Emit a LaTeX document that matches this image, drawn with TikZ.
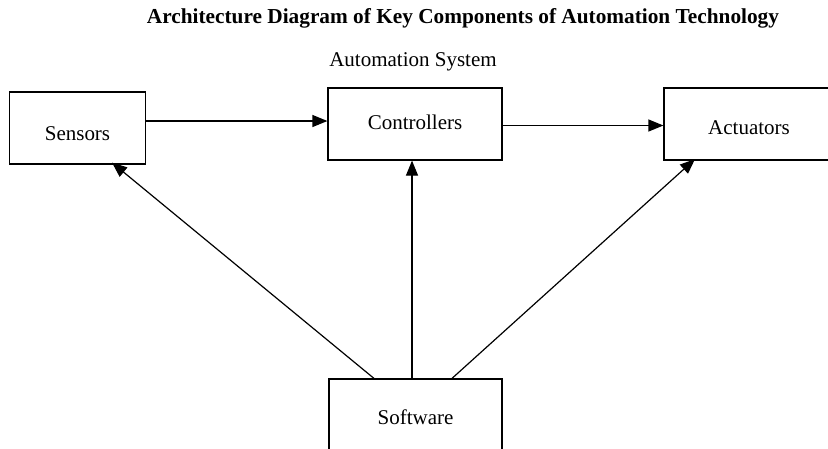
\documentclass[tikz,border=0pt]{standalone}
\usepackage{fontspec}
\setmainfont{Liberation Serif}
\usetikzlibrary{arrows.meta}
\begin{document}
\begin{tikzpicture}[x=1pt,y=-1pt,
  box/.style={draw, line width=1.2pt, inner sep=0pt, text depth=0pt, font=\fontsize{21}{25}\selectfont},
  arr/.style={line width=1.2pt, -{Triangle[length=15pt,width=12pt]}},
  lbl/.style={inner sep=0pt, font=\fontsize{21}{25}\selectfont}]
\useasboundingbox (0,0) rectangle (828,448);
\node[lbl, font=\fontsize{21.3}{25}\selectfont\bfseries] (title) at (463,18.5) {Architecture Diagram of Key Components of Automation Technology};
\node[lbl] (sys) at (413,61.5) {Automation System};
\node[box, minimum width=136pt, minimum height=72pt, text height=24pt] (sensors) at (77.5,128) {Sensors};
\node[box, minimum width=174pt, minimum height=72pt, text height=11pt] (controllers) at (415,124) {Controllers};
\node[box, minimum width=170pt, minimum height=72pt, text height=20pt] (actuators) at (749,124) {Actuators};
\node[box, minimum width=173pt, minimum height=72pt, text height=19pt] (software) at (415.5,415) {Software};
\coordinate (s1) at ([yshift=7pt]sensors.east);
\draw[arr] (s1) -- (s1 -| controllers.west);
\coordinate (c1) at ([yshift=-1.5pt]controllers.east);
\draw[arr] (c1) -- (c1 -| actuators.west);
\coordinate (w1) at ([xshift=-3.5pt]software.north);
\draw[arr] (w1) -- (w1 |- controllers.south);
\coordinate (w0) at ([xshift=-41.5pt]software.north);
\coordinate (se) at ([xshift=34.5pt,yshift=2pt]sensors.south);
\draw[arr] (w0) -- (se);
\coordinate (w2) at ([xshift=36.5pt]software.north);
\coordinate (ae) at ([xshift=-54pt,yshift=1.5pt]actuators.south);
\draw[arr] (w2) -- (ae);
\end{tikzpicture}
\end{document}
